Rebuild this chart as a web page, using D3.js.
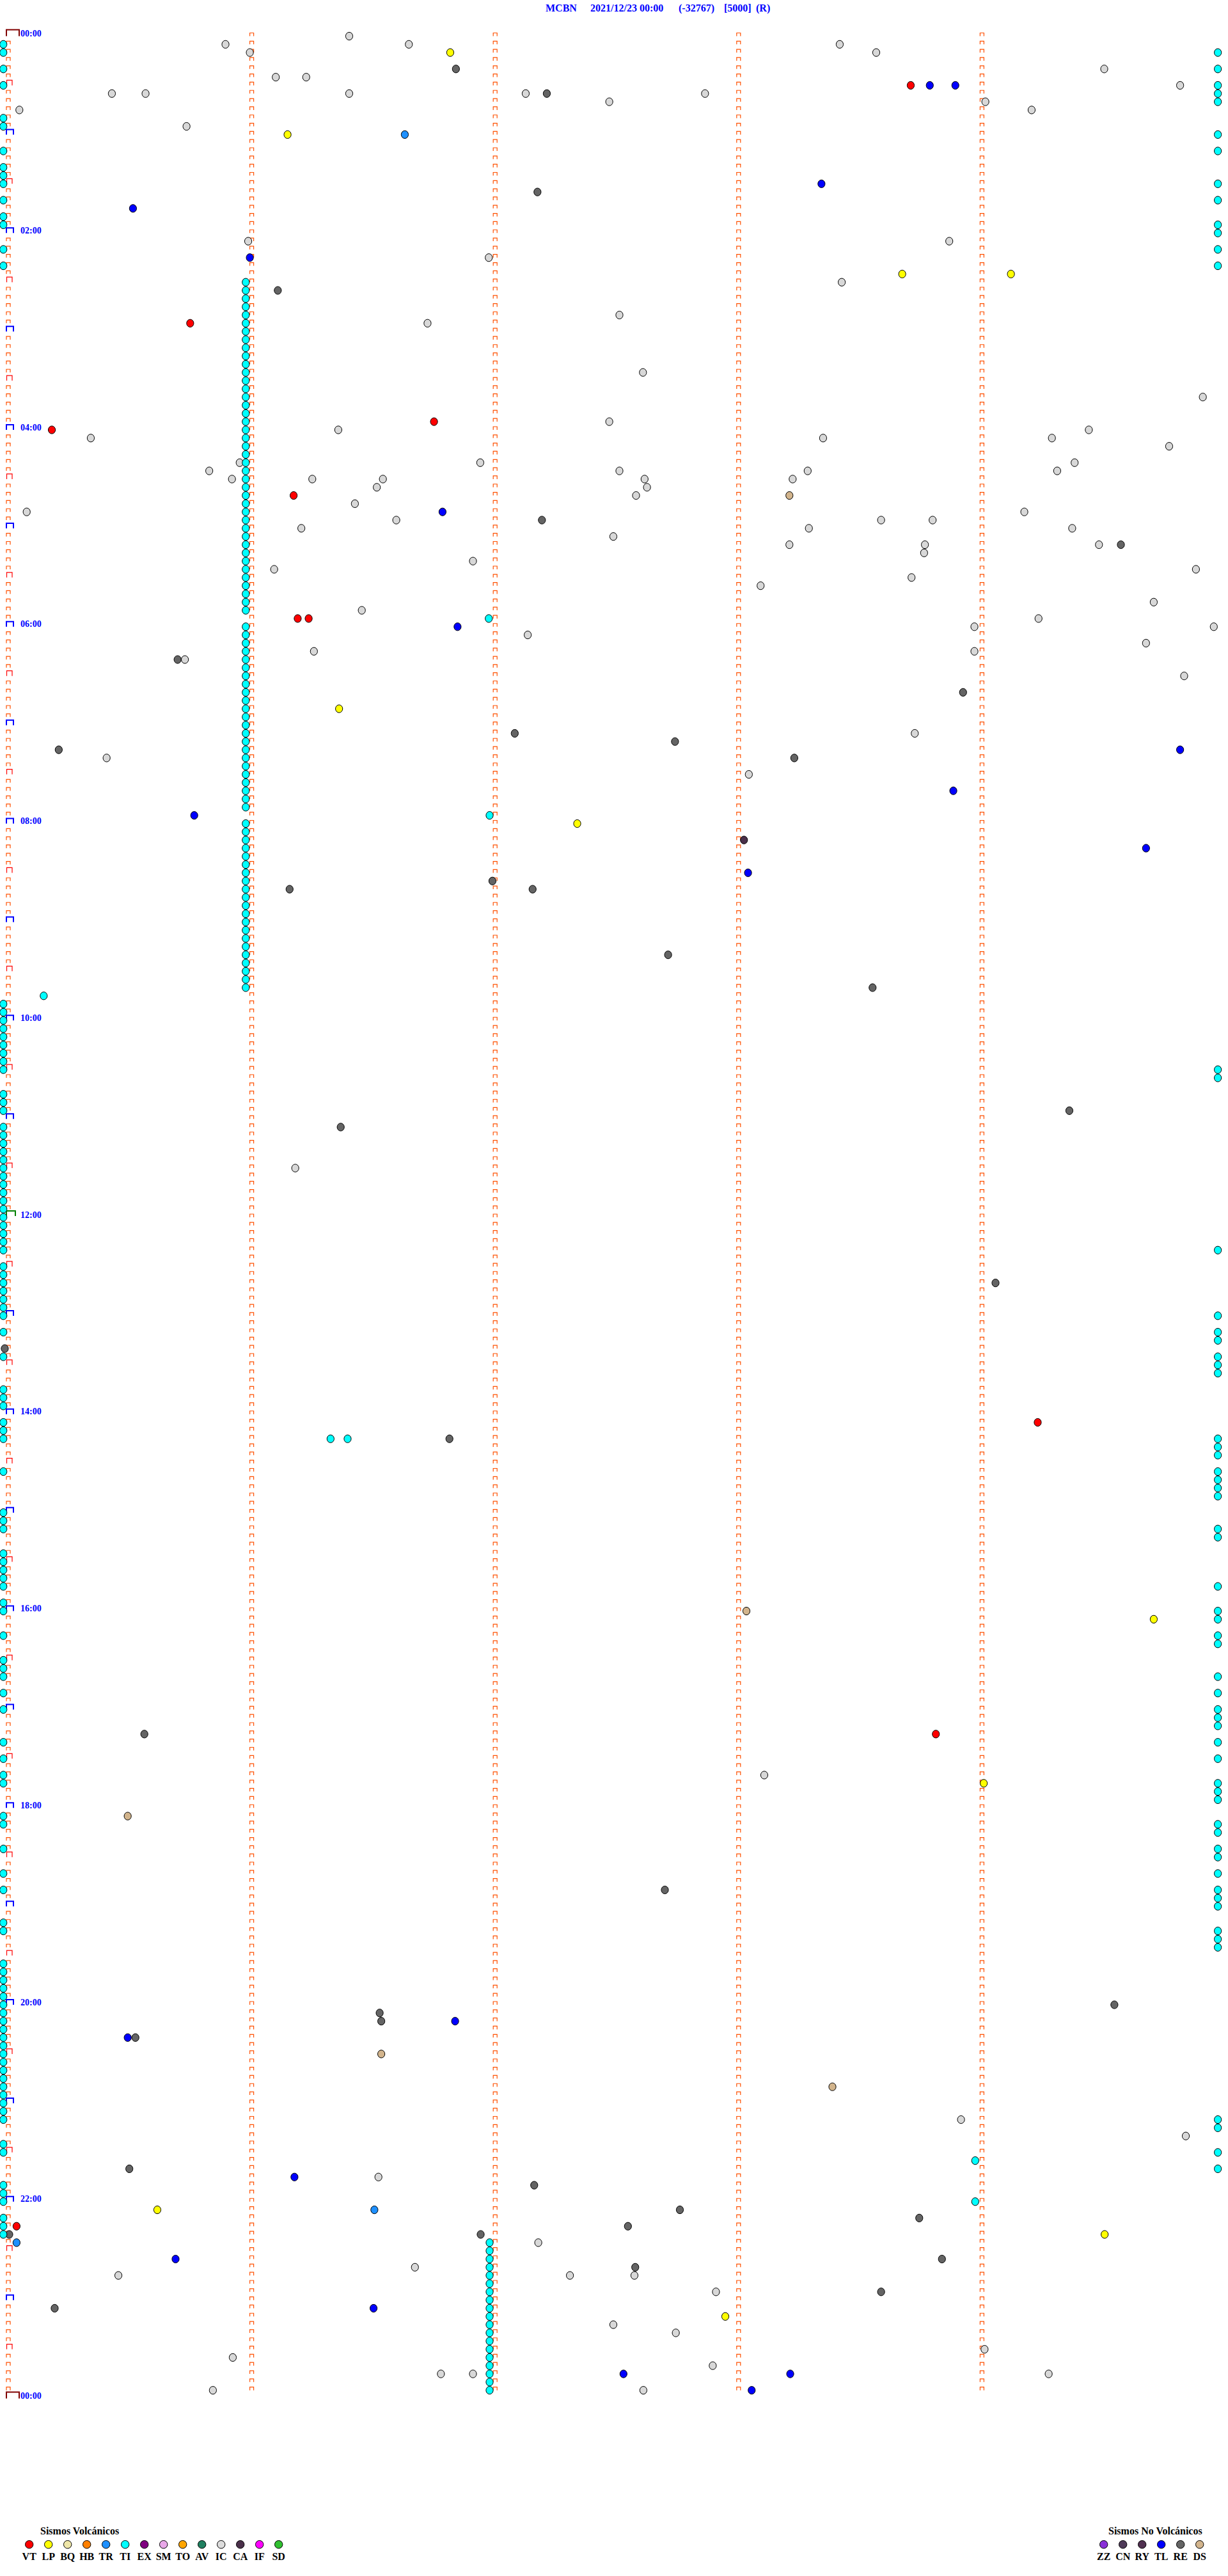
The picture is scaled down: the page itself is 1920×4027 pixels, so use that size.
<!DOCTYPE html>
<html><head><meta charset="utf-8">
<script src="https://cdn.jsdelivr.net/npm/d3@7"></script>
<style>body{margin:0;background:#fff}svg{display:block}</style>
</head><body><svg id="c" width="1920" height="4027"></svg>
<script>
// ---- header ----
const headerParts = ["MCBN", "2021/12/23 00:00", "(-32767)", "[5000]", "(R)"];
const headerX = [853, 923, 1061, 1132, 1182];

// ---- axes / ticks ----
const timeLabels = ["00:00","02:00","04:00","06:00","08:00","10:00","12:00","14:00","16:00","18:00","20:00","22:00","00:00"];
const timeLabelRows = [0,24,48,72,96,120,144,168,192,216,240,264,288];
const minuteTicks = [60, 120, 180, 240]; // seconds inside each 5-minute row

// ---- events: [row (5-min slot of the day), seconds within slot] ----
const vtEvents = [[6,222.9],[35,45.3],[47,105.4],[48,11.2],[56,70.8],[71,71.8],[71,74.5],[169,254.2],[207,229.1],[267,2.5]];
const lpEvents = [[2,109.4],[12,69.3],[29,220.8],[29,247.6],[82,82.0],[96,140.7],[193,282.8],[213,240.9],[265,37.2],[268,270.7],[278,177.2]];
const trEvents = [[12,98.2],[265,90.7],[269,2.5]];
const caEvents = [[98,181.8]];
const tlEvents = [[6,227.6],[6,233.9],[18,200.9],[21,31.2],[27,60.0],[58,107.5],[72,111.2],[87,289.3],[92,233.4],[95,46.3],[99,280.9],[102,182.8],[242,110.6],[244,29.9],[261,71.0],[271,41.7],[277,90.5],[285,152.1],[285,193.2],[287,183.7]];
const reEvents = [[4,110.8],[7,133.2],[19,130.9],[31,66.9],[59,132.0],[62,274.7],[76,42.2],[80,235.8],[85,125.3],[86,164.8],[87,12.9],[88,194.2],[103,119.8],[104,69.8],[104,129.7],[112,163.1],[116,213.5],[131,262.0],[133,82.4],[152,243.8],[160,-0.4],[171,109.2],[207,34.0],[226,162.3],[240,273.1],[241,92.0],[242,92.4],[244,31.8],[260,30.3],[262,130.1],[265,166.0],[266,225.0],[267,153.2],[268,0.7],[268,116.9],[271,230.6],[272,155.0],[275,215.6],[277,11.9]];
const dsEvents = [[56,193.0],[192,182.4],[217,29.9],[246,92.4],[250,203.6]];
const icEvents = [[0,84.5],[1,54.0],[1,99.2],[1,205.4],[2,60.0],[2,214.4],[4,270.6],[5,66.4],[5,73.9],[6,289.3],
 [7,26.0],[7,34.3],[7,84.5],[7,128.0],[7,172.2],[8,148.6],[8,241.3],[9,3.2],[9,252.7],[11,44.4],[25,59.6],[25,232.4],
 [27,118.9],[30,205.9],[34,151.1],[35,103.8],[41,156.9],[44,294.9],[47,148.6],[48,81.8],[48,266.8],[49,20.8],[49,201.3],
 [49,257.7],[50,286.6],[52,57.5],[52,116.8],[52,263.3],[53,50.0],[53,151.1],[53,197.5],[53,259.0],[54,55.6],[54,75.4],
 [54,92.8],[54,157.3],[54,193.8],[55,91.3],[55,157.9],[56,155.2],[57,85.9],[58,5.0],[58,250.9],[59,96.1],[59,215.6],
 [59,228.3],[60,72.7],[60,197.8],[60,262.7],[61,149.6],[62,193.0],[62,226.4],[62,269.3],[63,226.2],[64,115.0],[65,66.0],
 [65,293.2],[66,223.1],[67,185.9],[69,282.8],[70,87.6],[71,254.4],[72,238.6],[72,297.6],[73,128.5],[74,280.9],[75,75.8],
 [75,238.6],[76,44.0],[78,290.3],[85,223.9],[88,24.7],[90,183.0],[138,71.2],[212,186.8],[254,235.3],[256,290.7],[261,91.7],
 [269,131.1],[272,100.7],[273,27.6],[273,138.9],[273,154.8],[275,174.9],[279,149.6],[280,165.0],[282,241.1],[283,55.8],
 [284,174.1],[285,107.1],[285,115.0],[285,256.9],[287,50.9],[287,157.0]];
const tiEvents = [[71,118.9],[95,119.1],[117,9.2],[171,79.9],[171,84.1],[259,238.8],[264,238.8]];
// TI events at the left edge of a row (second -0.8)
const tiLeftRows = [1,2,4,6,10,11,14,16,17,18,20,22,23,26,28,118,119,120,121,122,123,124,125,126,129,130,131,133,134,135,136,137,138,139,140,141,142,143,144,145,146,147,148,150,151,152,153,154,155,156,158,161,165,166,167,169,170,171,175,180,181,182,185,186,187,188,189,191,192,195,198,199,200,202,204,208,210,212,213,217,218,221,224,226,230,231,235,236,237,238,239,240,241,242,243,244,245,246,247,248,249,250,251,252,253,254,257,258,262,263,264,266,267,268];
// TI events at the right edge of a row (second 298.6)
const tiRightRows = [2,4,6,7,8,12,14,18,20,23,24,26,28,126,127,148,156,158,159,161,162,163,171,172,173,175,176,177,178,182,183,189,192,193,195,196,200,202,204,205,206,208,210,213,214,215,218,219,221,222,224,226,227,228,231,232,233,254,255,258,260];
// TI swarm columns
const tiColumnRowsA = [30,31,32,33,34,35,36,37,38,39,40,41,42,43,44,45,46,47,48,49,50,51,52,53,54,55,56,57,58,59,60,61,62,63,64,65,66,67,68,69,70,72,73,74,75,76,77,78,79,80,81,82,83,84,85,86,87,88,89,90,91,92,93,94,96,97,98,99,100,101,102,103,104,105,106,107,108,109,110,111,112,113,114,115,116];
const tiColumnSecA = 59.0;
const tiColumnRowsB = [269,270,271,272,273,274,275,276,277,278,279,280,281,282,283,284,285,286,287];
const tiColumnSecB = 119.1;
const tiLeftSec = -0.75, tiRightSec = 298.6;

// ---- legend ----
const volcanicTypes = ["VT","LP","BQ","HB","TR","TI","EX","SM","TO","AV","IC","CA","IF","SD"];
const volcanicColors = ["#ff0000","#ffff00","#eee6a8","#ff8000","#1e90ff","#00ffff","#800080","#e8a8e8","#ffa500","#208060","#dcdcdc","#4a304a","#ff00ff","#30c030"];
const nonVolcanicTypes = ["ZZ","CN","RY","TL","RE","DS"];
const nonVolcanicColors = ["#8a30d8","#4e3a58","#503050","#0000ff","#646464","#d2b48c"];

const typeColor = {VT:"#ff0000",LP:"#ffff00",TR:"#1e90ff",TI:"#00ffff",IC:"#d8d8d8",CA:"#4a304a",TL:"#0000ff",RE:"#646464",DS:"#d2b48c"};

const svg = d3.select("#c");
const serif = "'Liberation Serif','Times New Roman',serif";
const x = d3.scaleLinear().domain([0, 300]).range([10, 1913]);
const y = d3.scaleLinear().domain([0, 288]).range([56.5, 3749.5]);

// header
svg.append("g").selectAll("text").data(headerParts).join("text")
  .attr("x", (d, i) => headerX[i]).attr("y", 18)
  .attr("font-family", serif).attr("font-size", 16).attr("font-weight", "bold").attr("fill", "#0000ff")
  .text(d => d);

// markers
const rows = d3.range(289);
const mk = svg.append("g").attr("fill", "none");
mk.selectAll("path.left").data(rows).join("path").attr("class", "left")
  .attr("d", r => {
    const yb = y(r), x0 = x(0);
    if (r === 0 || r === 288) return `M${x0},${yb} L${x0},${yb - 10} L${x0 + 20},${yb - 10} L${x0 + 20},${yb}`;
    if (r === 144) return `M${x0},${yb} L${x0},${yb - 10} L${x0 + 14},${yb - 10} L${x0 + 14},${yb - 2}`;
    if (r % 12 === 0) return `M${x0},${yb} L${x0},${yb - 8} L${x0 + 11},${yb - 8} L${x0 + 11},${yb}`;
    if (r % 12 === 6) return `M${x0 + 0.5},${yb} L${x0 + 0.5},${yb - 8} L${x0 + 9},${yb - 8} L${x0 + 9},${yb}`;
    return `M${x0},${yb} L${x0},${yb - 5} L${x0 + 6},${yb - 5} L${x0 + 6},${yb}`;
  })
  .attr("stroke", r => (r === 0 || r === 288) ? "#800000" : r === 144 ? "#008000" : r % 12 === 0 ? "#0000ff" : r % 12 === 6 ? "#ff0000" : "#ff5000")
  .attr("stroke-width", r => (r % 12 === 0) ? 2 : 1.2);

// minute markers
const inner = [];
d3.range(288).forEach(r => minuteTicks.forEach(s => inner.push([r, s])));
mk.selectAll("path.min").data(inner).join("path").attr("class", "min")
  .attr("d", d => `M${x(d[1])},${y(d[0])} L${x(d[1])},${y(d[0]) - 5} L${x(d[1]) + 6},${y(d[0]) - 5} L${x(d[1]) + 6},${y(d[0])}`)
  .attr("stroke", "#ff5000").attr("stroke-width", 1.2);

// time labels
svg.append("g").selectAll("text").data(timeLabels).join("text")
  .attr("x", 32).attr("y", (d, i) => y(timeLabelRows[i]) + 0.5)
  .attr("font-family", serif).attr("font-size", 14).attr("font-weight", "bold").attr("fill", "#0000ff")
  .text(d => d);

// events
const all = [];
const add = (arr, t) => arr.forEach(d => all.push({r: d[0], s: d[1], t}));
add(icEvents, "IC");
add(reEvents, "RE");
add(dsEvents, "DS");
add(caEvents, "CA");
tiLeftRows.forEach(r => all.push({r, s: tiLeftSec, t: "TI"}));
tiRightRows.forEach(r => all.push({r, s: tiRightSec, t: "TI"}));
tiColumnRowsA.forEach(r => all.push({r, s: tiColumnSecA, t: "TI"}));
tiColumnRowsB.forEach(r => all.push({r, s: tiColumnSecB, t: "TI"}));
add(tiEvents, "TI");
add(tlEvents, "TL");
add(trEvents, "TR");
add(lpEvents, "LP");
add(vtEvents, "VT");

svg.append("g").selectAll("ellipse").data(all).join("ellipse")
  .attr("cx", d => x(d.s)).attr("cy", d => y(d.r))
  .attr("rx", 5.6).attr("ry", 6.1)
  .attr("fill", d => typeColor[d.t]).attr("stroke", "#000").attr("stroke-width", 1);

// legend
function legend(types, colors, x0, titleX, title) {
  const g = svg.append("g");
  g.append("text").attr("x", titleX).attr("y", 3962)
    .attr("font-family", serif).attr("font-size", 16).attr("font-weight", "bold").attr("fill", "#000").text(title);
  g.selectAll("circle").data(types).join("circle")
    .attr("cx", (d, i) => x0 + 30 * i).attr("cy", 3977.7).attr("r", 6.2)
    .attr("fill", (d, i) => colors[i]).attr("stroke", "#000").attr("stroke-width", 1);
  g.selectAll("text.lab").data(types).join("text").attr("class", "lab")
    .attr("x", (d, i) => x0 + 30 * i).attr("y", 4001.5).attr("text-anchor", "middle")
    .attr("font-family", serif).attr("font-size", 16).attr("font-weight", "bold").attr("fill", "#000").text(d => d);
}
legend(volcanicTypes, volcanicColors, 45.7, 63, "Sismos Volcánicos");
legend(nonVolcanicTypes, nonVolcanicColors, 1725.7, 1733, "Sismos No Volcánicos");
</script></body></html>
